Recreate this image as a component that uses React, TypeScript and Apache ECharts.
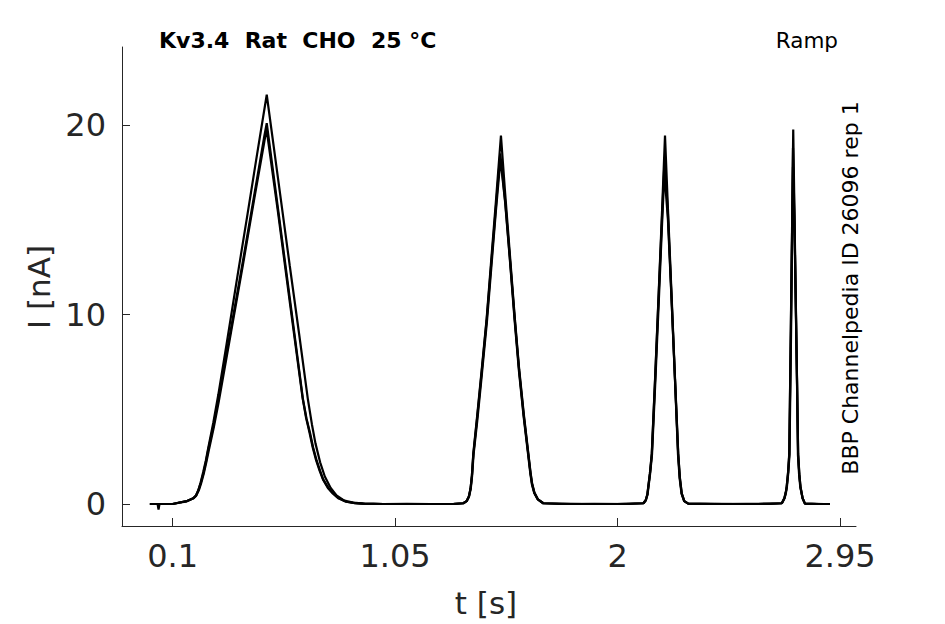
import React, { useEffect, useRef } from "react";
import * as echarts from "echarts";

// ---- data (t in s, I in nA) ----
const xTicks = [0.1, 1.05, 2, 2.95];
const yTicks = [0, 10, 20];

const traceA: [number, number][] = [
  [0.003, 0], [0.036, 0], [0.04, -0.3], [0.044, 0], [0.1, 0], [0.13, 0.08], [0.16, 0.15], [0.188, 0.3], [0.2, 0.45],
  [0.21, 0.74], [0.22, 1.15], [0.231, 1.7], [0.242, 2.3], [0.252, 2.95], [0.274, 4.3],
  [0.295, 5.75], [0.33, 8.4], [0.374, 11.8], [0.42, 15.3], [0.46, 18.4], [0.502, 21.6],
  [0.55, 17.2], [0.6, 12.6], [0.64, 9.0], [0.678, 5.5], [0.695, 4.2], [0.71, 3.2],
  [0.73, 2.2], [0.75, 1.45], [0.775, 0.85], [0.8, 0.45], [0.83, 0.2], [0.87, 0.07],
  [0.92, 0.02], [1.0, 0], [1.1, 0.01], [1.2, 0], [1.3, 0.01],
  [1.341, 0.04], [1.355, 0.15], [1.365, 0.4], [1.372, 0.8], [1.378, 1.5], [1.384, 2.67],
  [1.4, 4.6], [1.42, 7.1], [1.441, 9.8], [1.46, 12.8], [1.48, 15.9], [1.502, 19.45],
  [1.52, 16.4], [1.54, 13.2], [1.562, 9.7], [1.58, 7.1], [1.6, 4.7], [1.619, 2.67],
  [1.628, 1.7], [1.635, 1.1], [1.645, 0.6], [1.66, 0.25], [1.683, 0.04], [1.75, 0],
  [1.9, 0.01], [2.05, 0], [2.11, 0.04], [2.12, 0.2], [2.127, 0.5], [2.131, 0.9],
  [2.138, 1.6], [2.146, 2.67], [2.16, 6.6], [2.175, 11.0], [2.19, 15.5], [2.2025, 19.45],
  [2.215, 15.6], [2.23, 11.2], [2.245, 6.7], [2.259, 2.67], [2.266, 1.4], [2.274, 0.56],
  [2.285, 0.15], [2.302, 0.02], [2.4, 0], [2.55, 0.01], [2.65, 0],
  [2.701, 0.04], [2.712, 0.3], [2.718, 0.6], [2.722, 0.91], [2.728, 1.7], [2.733, 2.67],
  [2.74, 9.6], [2.745, 14.6], [2.75, 19.77], [2.755, 15.6], [2.76, 11.5], [2.766, 6.7],
  [2.771, 2.67], [2.776, 1.6], [2.781, 0.91], [2.79, 0.3], [2.8, 0.02], [2.85, 0], [2.907, 0],
];

const traceB: [number, number][] = [
  [0.003, 0], [0.1, 0], [0.13, 0.08], [0.16, 0.15], [0.188, 0.3], [0.2, 0.45], [0.21, 0.72],
  [0.22, 1.1], [0.231, 1.6], [0.242, 2.2], [0.252, 2.85], [0.274, 4.1], [0.295, 5.5],
  [0.35, 9.3], [0.4, 12.8], [0.45, 16.4], [0.49, 19.3], [0.502, 20.1],
  [0.55, 15.6], [0.6, 10.9], [0.657, 5.5], [0.672, 4.5], [0.687, 3.75], [0.7, 3.0],
  [0.715, 2.3], [0.73, 1.75], [0.743, 1.3], [0.765, 0.85], [0.786, 0.56], [0.81, 0.3],
  [0.843, 0.12], [0.88, 0.05], [0.914, 0.02], [1.0, 0], [1.15, 0], [1.3, 0],
  [1.341, 0.04], [1.355, 0.15], [1.365, 0.4], [1.372, 0.8], [1.378, 1.5], [1.384, 2.6],
  [1.4, 4.5], [1.42, 7.0], [1.441, 9.7], [1.46, 12.6], [1.48, 15.6], [1.499, 18.5],
  [1.52, 16.0], [1.54, 13.0], [1.562, 9.6], [1.58, 7.0], [1.6, 4.6], [1.619, 2.6],
  [1.628, 1.65], [1.635, 1.05], [1.645, 0.58], [1.66, 0.24], [1.683, 0.04], [1.8, 0],
  [2.0, 0], [2.11, 0.04], [2.12, 0.2], [2.127, 0.5], [2.131, 0.9], [2.138, 1.6],
  [2.146, 2.6], [2.16, 6.5], [2.175, 10.9], [2.19, 15.2], [2.201, 18.3],
  [2.215, 15.3], [2.23, 11.0], [2.245, 6.6], [2.259, 2.6], [2.266, 1.35], [2.274, 0.55],
  [2.285, 0.15], [2.302, 0.02], [2.45, 0], [2.6, 0],
  [2.701, 0.04], [2.712, 0.3], [2.718, 0.6], [2.722, 0.9], [2.728, 1.65], [2.733, 2.6],
  [2.74, 9.4], [2.745, 14.3], [2.749, 18.8], [2.755, 15.2], [2.76, 11.3], [2.766, 6.6],
  [2.771, 2.6], [2.776, 1.55], [2.781, 0.9], [2.79, 0.3], [2.8, 0.02], [2.88, 0], [2.907, 0],
];

const traceC: [number, number][] = [
  [0.003, 0], [0.1, 0], [0.13, 0.07], [0.16, 0.14], [0.19, 0.3], [0.2, 0.42], [0.212, 0.72],
  [0.222, 1.1], [0.233, 1.6], [0.244, 2.2], [0.254, 2.8], [0.276, 4.05], [0.297, 5.4],
  [0.35, 9.1], [0.4, 12.6], [0.45, 16.2], [0.49, 19.0], [0.501, 19.8],
  [0.55, 15.4], [0.6, 10.7], [0.655, 5.6], [0.67, 4.55], [0.685, 3.75], [0.698, 3.0],
  [0.713, 2.3], [0.728, 1.75], [0.742, 1.3], [0.763, 0.85], [0.784, 0.56], [0.808, 0.3],
  [0.84, 0.12], [0.878, 0.05], [0.91, 0.02], [1.0, 0], [1.2, 0], [1.3, 0],
  [1.342, 0.04], [1.356, 0.15], [1.366, 0.4], [1.373, 0.8], [1.379, 1.5], [1.385, 2.6],
  [1.401, 4.4], [1.421, 6.9], [1.442, 9.6], [1.461, 12.5], [1.48, 15.4], [1.5, 18.2],
  [1.52, 15.9], [1.54, 12.9], [1.561, 9.6], [1.579, 7.0], [1.599, 4.6], [1.618, 2.6],
  [1.627, 1.65], [1.634, 1.05], [1.644, 0.58], [1.659, 0.24], [1.682, 0.04], [1.85, 0],
  [2.0, 0], [2.111, 0.04], [2.121, 0.2], [2.128, 0.5], [2.132, 0.9], [2.139, 1.6],
  [2.147, 2.6], [2.161, 6.4], [2.176, 10.7], [2.19, 14.8], [2.2, 17.5],
  [2.215, 15.0], [2.23, 10.9], [2.245, 6.6], [2.258, 2.6], [2.265, 1.35], [2.273, 0.55],
  [2.284, 0.15], [2.301, 0.02], [2.5, 0], [2.6, 0],
  [2.702, 0.04], [2.713, 0.3], [2.719, 0.6], [2.723, 0.9], [2.729, 1.65], [2.734, 2.6],
  [2.741, 9.3], [2.745, 13.8], [2.749, 17.8], [2.755, 14.9], [2.76, 11.1], [2.766, 6.5],
  [2.77, 2.6], [2.775, 1.55], [2.78, 0.9], [2.79, 0.3], [2.8, 0.02], [2.86, 0], [2.905, 0],
];

const traces = [traceA, traceB, traceC];

const titleText = "Kv3.4  Rat  CHO  25 °C";
const protocolText = "Ramp";
const sideText = "BBP Channelpedia ID 26096 rep 1";
const xName = "t [s]";
const yName = "I [nA]";

const FONT = '"DejaVu Sans", sans-serif';
const AX = "#262626";

export default function App() {
  const ref = useRef<HTMLDivElement>(null);
  useEffect(() => {
    if (!ref.current) return;
    const chart = echarts.init(ref.current, null, { renderer: "svg" });
    chart.setOption({
      animation: false,
      backgroundColor: "#ffffff",
      grid: { left: 122, top: 47, right: 89, bottom: 98 },
      xAxis: {
        type: "value",
        min: -0.116,
        max: 3.018,
        splitLine: { show: false },
        axisLine: { show: true, onZero: false, lineStyle: { color: AX, width: 1 } },
        axisTick: { show: true, inside: true, length: 8, customValues: xTicks, lineStyle: { color: AX, width: 1 } },
        axisLabel: {
          customValues: xTicks,
          formatter: (v: number) => String(v),
          fontSize: 32,
          fontFamily: FONT,
          color: AX,
          margin: 14,
        },
      },
      yAxis: {
        type: "value",
        min: -1.161,
        max: 24.12,
        splitLine: { show: false },
        axisLine: { show: true, onZero: false, lineStyle: { color: AX, width: 1 } },
        axisTick: { show: true, inside: true, length: 8, customValues: yTicks, lineStyle: { color: AX, width: 1 } },
        axisLabel: {
          customValues: yTicks,
          formatter: (v: number) => String(v),
          fontSize: 32,
          fontFamily: FONT,
          color: AX,
          margin: 16,
        },
      },
      series: traces.map((d) => ({
        type: "line",
        data: d,
        symbol: "none",
        silent: true,
        lineStyle: { color: "#000000", width: 2.2 },
      })),
      graphic: [
        {
          type: "text",
          x: 159,
          y: 40,
          style: { text: titleText, font: `bold 22px ${FONT}`, fill: "#000", align: "left", verticalAlign: "middle" },
        },
        {
          type: "text",
          x: 838,
          y: 40,
          style: { text: protocolText, font: `21.5px ${FONT}`, fill: "#000", align: "right", verticalAlign: "middle" },
        },
        {
          type: "text",
          x: 850,
          y: 288,
          rotation: Math.PI / 2,
          style: { text: sideText, font: `22px ${FONT}`, fill: "#000", align: "center", verticalAlign: "middle" },
        },
        {
          type: "text",
          x: 39,
          y: 287,
          rotation: Math.PI / 2,
          style: { text: yName, font: `31px ${FONT}`, fill: AX, align: "center", verticalAlign: "middle" },
        },
        {
          type: "text",
          x: 486,
          y: 603,
          style: { text: xName, font: `31px ${FONT}`, fill: AX, align: "center", verticalAlign: "middle" },
        },
      ],
    });
    return () => chart.dispose();
  }, []);
  return <div ref={ref} style={{ position: "fixed", left: 0, top: 0, width: 945, height: 624 }} />;
}
